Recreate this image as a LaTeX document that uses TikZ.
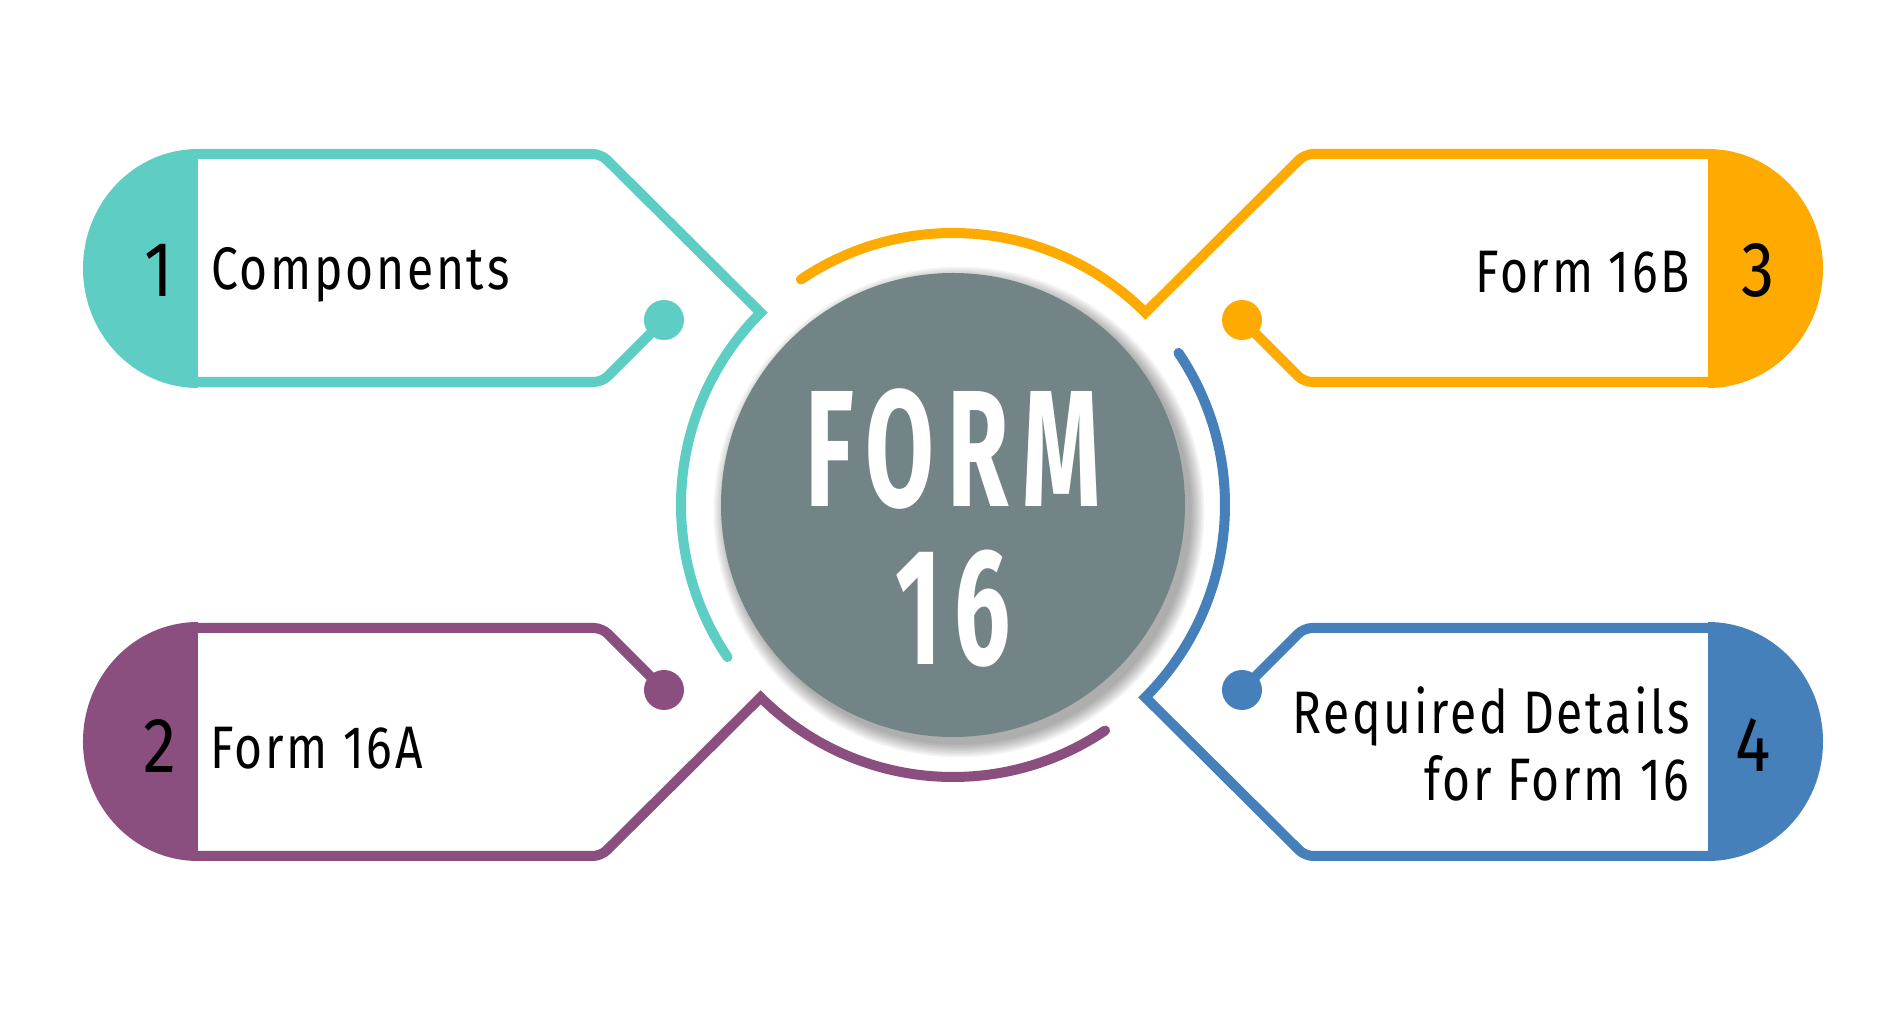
\documentclass[tikz,border=0pt]{standalone}
\usepackage{fontspec}
\setmainfont{Fira Sans}
\newfontfamily\tagfont{Fira Sans}[FakeStretch=0.8,LetterSpace=4.5]
\newfontfamily\numfont{Fira Sans}[FakeStretch=0.85]
\newfontfamily\titlefont{Fira Sans}[FakeStretch=0.6,LetterSpace=8]
\usetikzlibrary{positioning}

\definecolor{tealc}{HTML}{5ECDC4}
\definecolor{orangec}{HTML}{FFAA00}
\definecolor{purplec}{HTML}{8B4F7F}
\definecolor{bluec}{HTML}{4680BA}
\definecolor{grayc}{HTML}{738487}

\begin{document}
\begin{tikzpicture}[x=0.5pt, y=0.5pt]

% styles
\tikzstyle{tagline} = [line width=5pt, line cap=round, line join=miter]
\tikzstyle{tagtext} = [inner sep=0pt, font=\tagfont\fontsize{30}{33.5}\selectfont]
\tikzstyle{tagnum} = [inner sep=0pt, font=\numfont\fontsize{39}{40}\selectfont]
\tikzstyle{title} = [inner sep=0pt, text=white, font=\titlefont\bfseries\fontsize{83}{80}\selectfont]

\fill[white] (-953,-505) rectangle (947,505);
\useasboundingbox (-953,-505) rectangle (947,505);

% middle circle with its shadow
\foreach \i in {1,...,9}
  \fill[black, opacity=0.04] (6,-7) circle ({231+1.6*\i});
\node (form) [circle, fill=grayc, minimum size=232pt, inner sep=0pt] at (0,0) {};
\node (formtitle) [title, anchor=base] at (0,-2) {FORM};
\node (formnum) [title, anchor=base] at (0,-160) {16};

% the four tags with their arcs
\foreach \col/\xs/\ys/\stop in {tealc/1/1/214, orangec/-1/1/56, purplec/1/-1/56, bluec/-1/-1/214}{
  \begin{scope}[xscale=\xs, yscale=\ys]
    \draw[tagline, draw=\col, rounded corners=4pt] (-289,185) -- (-351,123) -- (-755,123);
    \draw[tagline, draw=\col, rounded corners=4pt] (-755,351) -- (-352,351) [sharp corners] -- (135:272)
      arc[start angle=135, end angle=\stop, radius=272];
    \fill[\col] (-289,185) circle (20);
    \fill[\col] (-755,356) arc[start angle=90, end angle=270, x radius=115, y radius=119.5] -- cycle;
  \end{scope}
}

% numbers and labels
\node (n1) [tagnum] at (-794,235) {1};
\node (t1) [tagtext, anchor=base west] at (-742,215) {Components};
\node (n3) [tagnum] at (805,235) {3};
\node (t3) [tagtext, anchor=base east] at (737,212) {Form 16B};
\node (n2) [tagnum] at (-793,-241.5) {2};
\node (t2) [tagtext, anchor=base west] at (-743,-264) {Form 16A};
\node (n4) [tagnum] at (800,-240.5) {4};
\node (t4) [tagtext, anchor=east, align=right] at (737,-238.5) {Required Details\\for Form 16};
\end{tikzpicture}
\end{document}
